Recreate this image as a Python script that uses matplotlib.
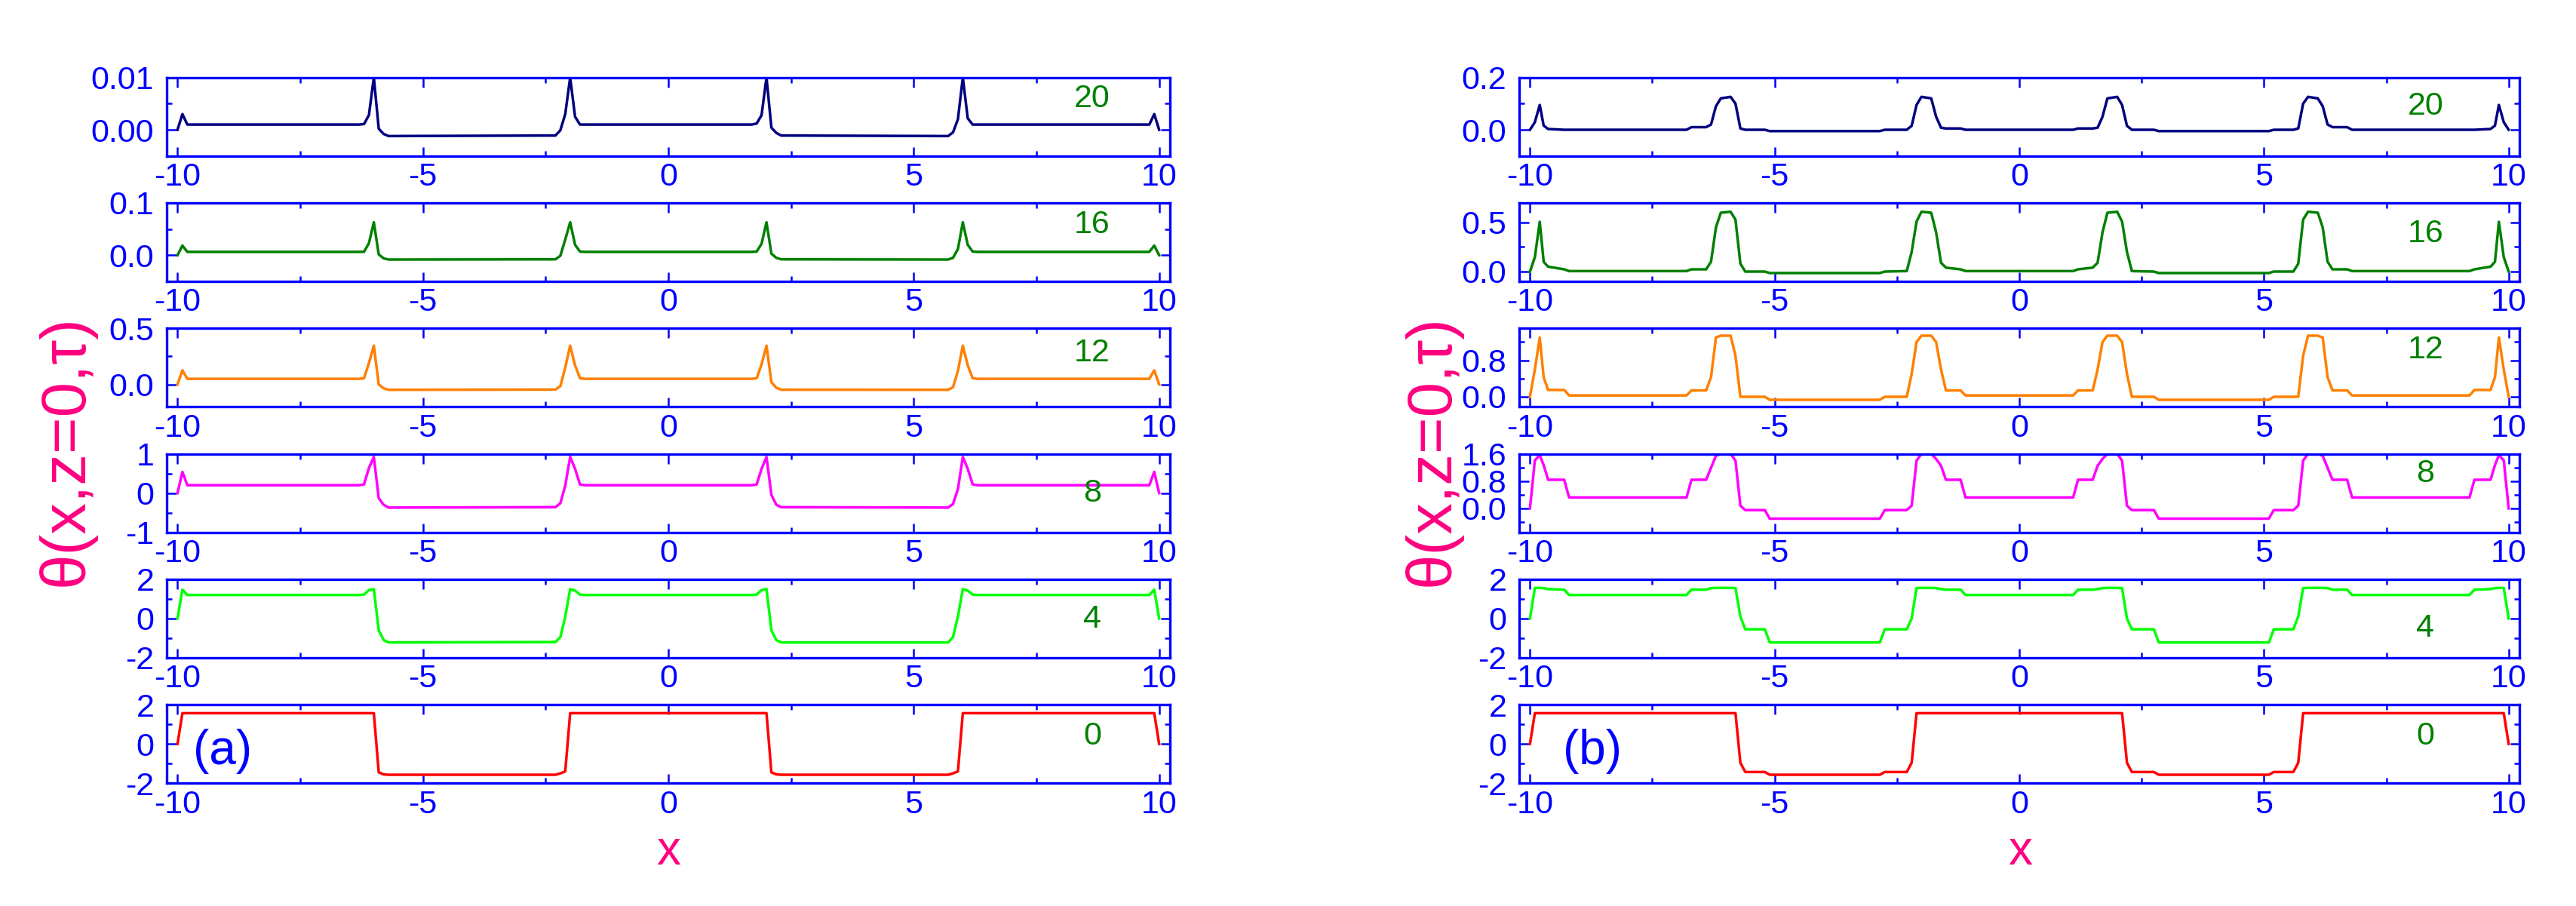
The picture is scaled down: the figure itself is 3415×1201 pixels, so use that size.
import matplotlib.pyplot as plt

plt.rcParams['font.family'] = ['Liberation Sans', 'DejaVu Sans']
plt.rcParams['axes.unicode_minus'] = False

# ---- panel (a): x grid shared by all six curves ----
xa = [-10, -9.9, -9.8,
      -6.3, -6.2, -6.1, -6.0, -5.9, -5.8, -5.7,
      -2.3, -2.2, -2.1, -2.0, -1.9, -1.8, -1.7,
      1.7, 1.8, 1.9, 2.0, 2.1, 2.2, 2.3,
      5.7, 5.8, 5.9, 6.0, 6.1, 6.2, 6.3,
      9.8, 9.9, 10]

a20 = [0, 0.003, 0.001,
       0.001, 0.0011, 0.0028, 0.01, 0.0002, -0.0008, -0.0012,
       -0.0011, -0.0001, 0.003, 0.01, 0.0025, 0.001, 0.001,
       0.001, 0.0012, 0.0028, 0.01, 0.0004, -0.0006, -0.0011,
       -0.0012, -0.0005, 0.002, 0.01, 0.0022, 0.001, 0.001,
       0.001, 0.003, 0]
a16 = [0, 0.0185, 0.0064,
       0.0064, 0.0066, 0.023, 0.063, 0.0015, -0.006, -0.0082,
       -0.0078, -0.001, 0.03, 0.063, 0.02, 0.007, 0.0064,
       0.0064, 0.007, 0.022, 0.063, 0.003, -0.005, -0.0078,
       -0.0082, -0.005, 0.012, 0.063, 0.02, 0.007, 0.0064,
       0.0064, 0.0185, 0]
a12 = [0, 0.126, 0.05,
       0.05, 0.055, 0.19, 0.346, 0.0, -0.035, -0.048,
       -0.046, -0.015, 0.15, 0.346, 0.17, 0.055, 0.05,
       0.05, 0.055, 0.18, 0.346, 0.02, -0.03, -0.047,
       -0.048, -0.025, 0.12, 0.346, 0.17, 0.055, 0.05,
       0.05, 0.126, 0]
a8 = [0, 0.54, 0.2,
      0.2, 0.22, 0.64, 0.92, -0.13, -0.3, -0.37,
      -0.36, -0.26, 0.19, 0.92, 0.62, 0.22, 0.2,
      0.2, 0.22, 0.62, 0.92, -0.05, -0.3, -0.36,
      -0.37, -0.28, 0.1, 0.92, 0.62, 0.22, 0.2,
      0.2, 0.54, 0]
a4 = [0, 1.47, 1.2,
      1.2, 1.22, 1.45, 1.5, -0.6, -1.1, -1.22,
      -1.2, -0.95, 0.1, 1.5, 1.42, 1.22, 1.2,
      1.2, 1.22, 1.45, 1.5, -0.6, -1.1, -1.22,
      -1.22, -0.95, 0.1, 1.5, 1.42, 1.22, 1.2,
      1.2, 1.47, 0]
a0 = [0, 1.57, 1.57,
      1.57, 1.57, 1.57, 1.57, -1.45, -1.55, -1.57,
      -1.57, -1.5, -1.4, 1.57, 1.57, 1.57, 1.57,
      1.57, 1.57, 1.57, 1.57, -1.45, -1.55, -1.57,
      -1.57, -1.5, -1.4, 1.57, 1.57, 1.57, 1.57,
      1.57, 1.57, 0]

# ---- panel (b): x grid shared by all six curves ----
xb = [-10, -9.9, -9.8, -9.72, -9.63, -9.3, -9.2,
      -6.8, -6.7, -6.4, -6.3, -6.2, -6.1, -5.9, -5.8,
      -5.7, -5.6, -5.2, -5.1,
      -2.85, -2.75, -2.3, -2.2,
      -2.1, -2.0, -1.8, -1.7, -1.6, -1.5, -1.2, -1.1,
      1.1, 1.2, 1.5, 1.6, 1.7, 1.8, 2.0, 2.1,
      2.2, 2.3, 2.75, 2.85,
      5.1, 5.2, 5.6, 5.7,
      5.8, 5.9, 6.1, 6.2, 6.3, 6.4, 6.7, 6.8,
      9.2, 9.3, 9.63, 9.72, 9.8, 9.9, 10]

b20 = [0, 0.029, 0.095, 0.016, 0.003, 0.0, 0.0,
       0.0, 0.01, 0.01, 0.02, 0.09, 0.12, 0.126, 0.1,
       0.005, 0.0, 0.0, -0.005,
       -0.005, 0.0, 0.0, 0.015,
       0.095, 0.126, 0.12, 0.05, 0.008, 0.005, 0.005, 0.0,
       0.0, 0.005, 0.005, 0.008, 0.05, 0.12, 0.126, 0.095,
       0.015, 0.0, 0.0, -0.005,
       -0.005, 0.0, 0.0, 0.005,
       0.1, 0.126, 0.12, 0.09, 0.02, 0.01, 0.01, 0.0,
       0.0, 0.0, 0.003, 0.016, 0.095, 0.029, 0]
b16 = [0, 0.147, 0.508, 0.1, 0.05, 0.023, 0.005,
       0.005, 0.023, 0.023, 0.1, 0.45, 0.6, 0.61, 0.53,
       0.08, 0.0, 0.0, -0.015,
       -0.015, 0.0, 0.005, 0.2,
       0.51, 0.61, 0.6, 0.4, 0.09, 0.04, 0.023, 0.005,
       0.005, 0.023, 0.04, 0.09, 0.4, 0.6, 0.61, 0.51,
       0.2, 0.005, 0.0, -0.015,
       -0.015, 0.0, 0.0, 0.08,
       0.53, 0.61, 0.6, 0.45, 0.1, 0.023, 0.023, 0.005,
       0.005, 0.023, 0.05, 0.1, 0.508, 0.147, 0]
b12 = [0, 0.6, 1.3, 0.43, 0.15, 0.15, 0.03,
       0.03, 0.14, 0.14, 0.43, 1.3, 1.34, 1.34, 0.9,
       0.0, 0.0, 0.0, -0.066,
       -0.066, 0.0, 0.0, 0.5,
       1.2, 1.34, 1.34, 1.2, 0.6, 0.14, 0.14, 0.03,
       0.03, 0.14, 0.14, 0.6, 1.2, 1.34, 1.34, 1.2,
       0.5, 0.0, 0.0, -0.066,
       -0.066, 0.0, 0.0, 0.0,
       0.9, 1.34, 1.34, 1.3, 0.43, 0.14, 0.14, 0.03,
       0.03, 0.15, 0.15, 0.43, 1.3, 0.6, 0]
b8 = [0, 1.41, 1.56, 1.27, 0.84, 0.84, 0.32,
      0.32, 0.84, 0.84, 1.19, 1.54, 1.6, 1.6, 1.4,
      0.08, -0.05, -0.05, -0.3,
      -0.3, -0.05, -0.05, 0.08,
      1.4, 1.6, 1.6, 1.45, 1.25, 0.84, 0.84, 0.32,
      0.32, 0.84, 0.84, 1.25, 1.45, 1.6, 1.6, 1.4,
      0.08, -0.05, -0.05, -0.3,
      -0.3, -0.05, -0.05, 0.08,
      1.4, 1.6, 1.6, 1.54, 1.19, 0.84, 0.84, 0.32,
      0.32, 0.84, 0.84, 1.27, 1.56, 1.41, 0]
b4 = [0, 1.56, 1.56, 1.55, 1.5, 1.47, 1.2,
      1.2, 1.47, 1.47, 1.55, 1.56, 1.56, 1.56, 1.55,
      0.1, -0.55, -0.55, -1.22,
      -1.22, -0.55, -0.55, 0.0,
      1.55, 1.56, 1.56, 1.55, 1.5, 1.47, 1.47, 1.2,
      1.2, 1.47, 1.47, 1.5, 1.55, 1.56, 1.56, 1.55,
      0.0, -0.55, -0.55, -1.22,
      -1.22, -0.55, -0.55, 0.1,
      1.55, 1.56, 1.56, 1.56, 1.55, 1.47, 1.47, 1.2,
      1.2, 1.47, 1.5, 1.55, 1.56, 1.56, 0]
b0 = [0, 1.57, 1.57, 1.57, 1.57, 1.57, 1.57,
      1.57, 1.57, 1.57, 1.57, 1.57, 1.57, 1.57, 1.57,
      -0.96, -1.43, -1.43, -1.57,
      -1.57, -1.43, -1.43, -0.96,
      1.57, 1.57, 1.57, 1.57, 1.57, 1.57, 1.57, 1.57,
      1.57, 1.57, 1.57, 1.57, 1.57, 1.57, 1.57, 1.57,
      -0.96, -1.43, -1.43, -1.57,
      -1.57, -1.43, -1.43, -0.96,
      1.57, 1.57, 1.57, 1.57, 1.57, 1.57, 1.57, 1.57,
      1.57, 1.57, 1.57, 1.57, 1.57, 1.57, 0]

taus = ['20', '16', '12', '8', '4', '0']
xticks = [-10, -5, 0, 5, 10]
xtick_labels = ['-10', '-5', '0', '5', '10']

# axis ranges and ticks, per row
ylim_a = [(-0.005, 0.01), (-0.05, 0.1), (-0.2, 0.5), (-1, 1), (-2, 2), (-2, 2)]
yt_a = [[0, 0.01], [0, 0.1], [0, 0.5], [-1, 0, 1], [-2, 0, 2], [-2, 0, 2]]
ytl_a = [['0.00', '0.01'], ['0.0', '0.1'], ['0.0', '0.5'], ['-1', '0', '1'],
         ['-2', '0', '2'], ['-2', '0', '2']]
ym_a = [[0.005], [0.05], [0.25], [-0.5, 0.5], [-1, 1], [-1, 1]]

ylim_b = [(-0.1, 0.2), (-0.1, 0.7), (-0.22, 1.5), (-0.7, 1.6), (-2, 2), (-2, 2)]
yt_b = [[0, 0.2], [0, 0.5], [0, 0.8], [0, 0.8, 1.6], [-2, 0, 2], [-2, 0, 2]]
ytl_b = [['0.0', '0.2'], ['0.0', '0.5'], ['0.0', '0.8'], ['0.0', '0.8', '1.6'],
         ['-2', '0', '2'], ['-2', '0', '2']]
ym_b = [[0.1], [0.25], [0.4, 1.2], [-0.4, 0.4, 1.2], [-1, 1], [-1, 1]]

colors = ['#000080', '#008000', '#FF8000', '#FF00FF', '#00FF00', '#FF0000']
pink = '#FF0080'
tau_y_a = [0.73, 0.72, 0.69, 0.5, 0.49, 0.6]
tau_y_b = [0.63, 0.61, 0.72, 0.75, 0.37, 0.6]

W, H = 3415.0, 1201.0
fig = plt.figure(figsize=(W / 100, H / 100), dpi=100)


def style(ax, ylim, yt, ytl, ym):
    for s in ax.spines.values():
        s.set_color('blue')
        s.set_linewidth(2.4)
    ax.set_xlim(-10.22, 10.22)
    ax.set_ylim(*ylim)
    ax.set_xticks(xticks)
    ax.set_xticklabels(xtick_labels)
    ax.set_xticks([-7.5, -2.5, 2.5, 7.5], minor=True)
    ax.set_yticks(yt)
    ax.set_yticklabels(ytl)
    ax.set_yticks(ym, minor=True)
    ax.tick_params(which='both', direction='in', top=True, right=True,
                   colors='blue', labelsize=31, width=1.8)
    ax.tick_params(which='major', length=9)
    ax.tick_params(which='minor', length=5)
    ax.tick_params(axis='x', pad=6)
    ax.tick_params(axis='y', pad=12)


rows_a = [a20, a16, a12, a8, a4, a0]
rows_b = [b20, b16, b12, b8, b4, b0]

for i in range(6):
    bottom = 1 - (102.7 + 166.3 * i + 104) / H
    h = 104 / H

    ax = fig.add_axes([221 / W, bottom, 1330 / W, h])
    ax.plot(xa, rows_a[i], color=colors[i], lw=2.5)
    style(ax, ylim_a[i], yt_a[i], ytl_a[i], ym_a[i])
    ax.text(0.9226, tau_y_a[i], taus[i], transform=ax.transAxes, color='#008000',
            fontsize=31, ha='center', va='center')
    if i == 5:
        ax.text(0.056, 0.41, '(a)', transform=ax.transAxes, color='blue',
                fontsize=46, ha='center', va='center')

    bx = fig.add_axes([2014 / W, bottom, 1326 / W, h])
    bx.plot(xb, rows_b[i], color=colors[i], lw=2.5)
    style(bx, ylim_b[i], yt_b[i], ytl_b[i], ym_b[i])
    bx.text(0.906, tau_y_b[i], taus[i], transform=bx.transAxes, color='#008000',
            fontsize=31, ha='center', va='center')
    if i == 5:
        bx.text(0.073, 0.41, '(b)', transform=bx.transAxes, color='blue',
                fontsize=46, ha='center', va='center')

# axis titles
fig.text(88 / W, 0.503, 'θ(x,z=0,τ)', rotation=90, color=pink, fontsize=60,
         ha='center', va='center')
fig.text(1899 / W, 0.503, 'θ(x,z=0,τ)', rotation=90, color=pink, fontsize=60,
         ha='center', va='center')
fig.text(886 / W, 0.06, 'x', color=pink, fontsize=46, ha='center', va='center')
fig.text(2678.6 / W, 0.06, 'x', color=pink, fontsize=46, ha='center', va='center')

fig.savefig('out.png', dpi=100)
